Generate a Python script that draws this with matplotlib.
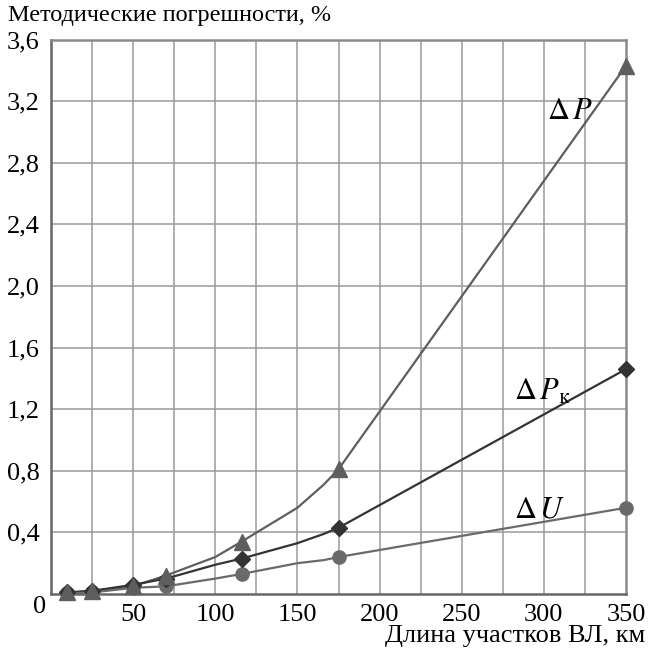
import matplotlib
matplotlib.use("Agg")
import matplotlib.pyplot as plt

# Marker points (km, %)
x_pts = [10, 25, 50, 70, 116, 175, 350]
dP = [0.01, 0.02, 0.05, 0.12, 0.34, 0.81, 3.43]
dPk = [0.01, 0.02, 0.06, 0.10, 0.23, 0.43, 1.46]
dU = [0.005, 0.01, 0.04, 0.05, 0.13, 0.24, 0.56]

# Curve vertices (lines pass through these)
dP_line_x = [10, 25, 50, 70, 100, 116, 150, 166, 175, 350]
dP_line_y = [0.01, 0.02, 0.05, 0.12, 0.24, 0.34, 0.56, 0.71, 0.81, 3.43]
dPk_line_x = [10, 25, 50, 70, 100, 116, 150, 166, 175, 350]
dPk_line_y = [0.01, 0.02, 0.06, 0.10, 0.19, 0.23, 0.33, 0.39, 0.43, 1.46]
dU_line_x = [10, 25, 50, 70, 100, 116, 150, 166, 175, 350]
dU_line_y = [0.005, 0.01, 0.04, 0.05, 0.10, 0.13, 0.20, 0.22, 0.24, 0.56]

x_ticks = [50, 100, 150, 200, 250, 300, 350]
y_ticks = [0.4, 0.8, 1.2, 1.6, 2.0, 2.4, 2.8, 3.2, 3.6]
y_tick_labels = ["0,4", "0,8", "1,2", "1,6", "2,0", "2,4", "2,8", "3,2", "3,6"]

plt.rcParams['font.family'] = ['Liberation Serif', 'DejaVu Serif']

W, H = 648, 653
fig = plt.figure(figsize=(W / 100, H / 100), dpi=100)
ax = fig.add_axes([51 / W, 59 / H, 575 / W, 554.5 / H])
ax.set_xlim(0, 350)
ax.set_ylim(0, 3.6)

# grid
for xv in range(25, 350, 25):
    ax.axvline(xv, color='#9a9a9a', lw=1.1, zorder=1)
for yv in y_ticks[:-1]:
    ax.axhline(yv, color='#9a9a9a', lw=1.1, zorder=1)

for s in ['left', 'bottom']:
    ax.spines[s].set_color('#666666')
    ax.spines[s].set_linewidth(1.8)
for s in ['top', 'right']:
    ax.spines[s].set_color('#8a8a8a')
    ax.spines[s].set_linewidth(1.8)

c_P = '#5e5e5e'
c_Pk = '#333333'
c_U = '#6a6a6a'

ax.plot(dP_line_x, dP_line_y, color=c_P, lw=1.6, zorder=3)
ax.plot(dPk_line_x, dPk_line_y, color=c_Pk, lw=1.6, zorder=3)
ax.plot(dU_line_x, dU_line_y, color=c_U, lw=1.6, zorder=3)
ax.plot(x_pts, dU, 'o', color=c_U, ms=9.5, zorder=4, clip_on=False)
ax.plot(x_pts, dPk, 'D', color=c_Pk, ms=8, zorder=5, clip_on=False)
ax.plot(x_pts, dP, '^', color=c_P, ms=12, zorder=6, clip_on=False)

ax.tick_params(length=0, labelsize=19, pad=8)
ax.set_xticks(x_ticks)
ax.set_xticklabels([str(v) for v in x_ticks])
ax.set_yticks(y_ticks)
ax.set_yticklabels(y_tick_labels)
ax.tick_params(axis='x', pad=7)

fig.text(40 / W, 1 - 607 / H, "0", fontsize=19, ha='center', va='center')
fig.text(8 / W, 1 - 15 / H, "Методические погрешности, %", fontsize=17.5,
         ha='left', va='center')
fig.text(645 / W, 1 - 636 / H, "Длина участков ВЛ, км", fontsize=19,
         ha='right', va='center')

ax.text(302, 3.13, r"$\Delta\,P$", fontsize=22, ha='left', va='center',
        math_fontfamily='stix')
ax.text(282, 1.31, r"$\Delta\,P_{\mathrm{к}}$", fontsize=22, ha='left',
        va='center', math_fontfamily='stix')
ax.text(282, 0.545, r"$\Delta\,U$", fontsize=22, ha='left', va='center',
        math_fontfamily='stix')

fig.savefig("out.png", dpi=100, facecolor='white')
